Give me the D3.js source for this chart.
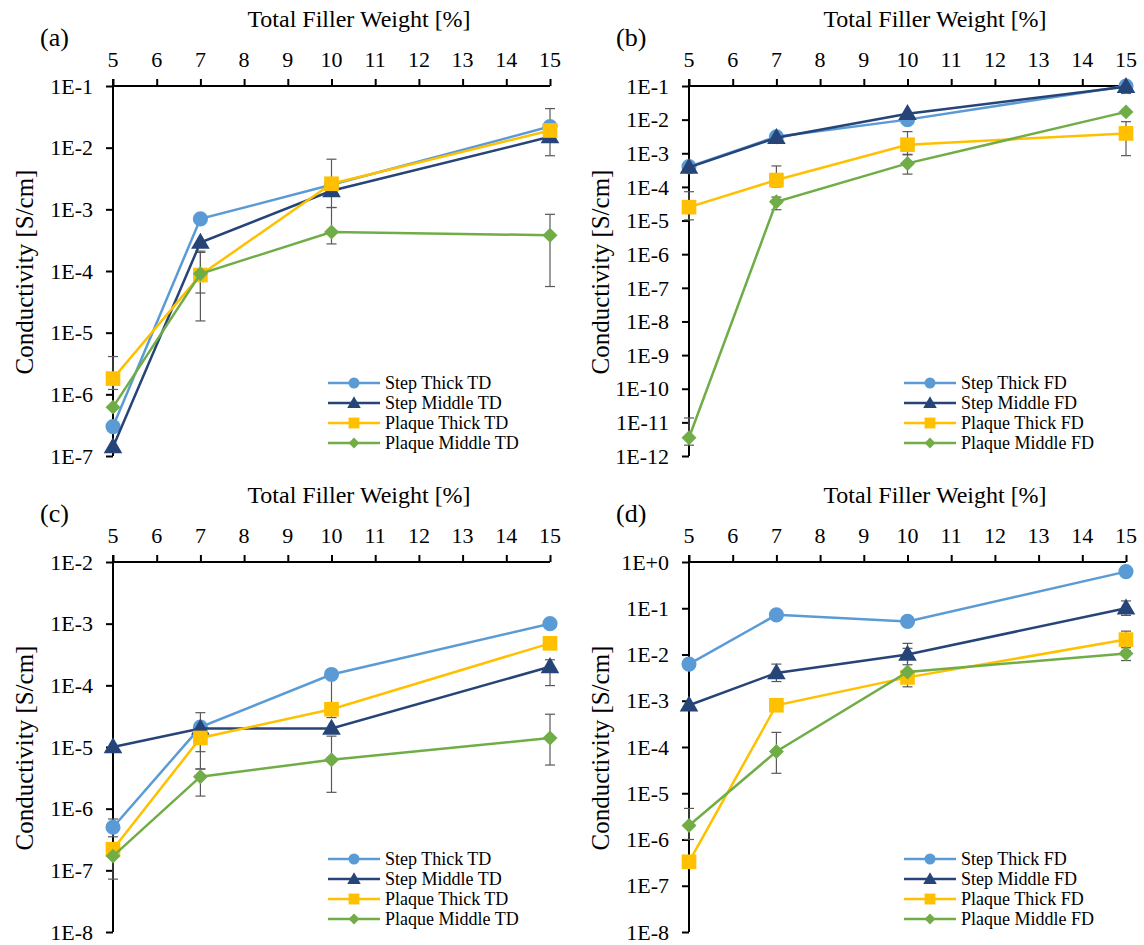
<!DOCTYPE html>
<html>
<head>
<meta charset="utf-8">
<script src="https://cdn.jsdelivr.net/npm/d3@7"></script>
</head>
<body style="margin:0">
<script>
// filler weights where the samples were measured, and the tick labels on the top axis
var weights = [5, 7, 10, 15];
var xTickValues = [5, 6, 7, 8, 9, 10, 11, 12, 13, 14, 15];

var tdNames = ["Step Thick TD", "Step Middle TD", "Plaque Thick TD", "Plaque Middle TD"];
var fdNames = ["Step Thick FD", "Step Middle FD", "Plaque Thick FD", "Plaque Middle FD"];

// (a) thick direction, first set
var a_stepThick    = [3.0e-7, 7.0e-4, 2.5e-3, 2.2e-2];
var a_stepMiddle   = [1.4e-7, 2.9e-4, 2.0e-3, 1.5e-2];
var a_plaqueThick  = [1.8e-6, 8.6e-5, 2.6e-3, 1.9e-2];
var a_plaqueMiddle = [6.2e-7, 9.0e-5, 4.3e-4, 3.8e-4];
var a_stepThickErr    = [null, null, null, [7.4e-3, 4.3e-2]];
var a_stepMiddleErr   = [null, null, null, null];
var a_plaqueThickErr  = [[1.2e-6, 4.1e-6], [4.4e-5, 2.0e-4], [1.07e-3, 6.5e-3], null];
var a_plaqueMiddleErr = [null, [1.55e-5, 2.1e-4], [2.75e-4, 1.07e-3], [5.6e-5, 8.3e-4]];

// (b) flow direction, first set
var b_stepThick    = [4.0e-4, 3.1e-3, 1.0e-2, 1.0e-1];
var b_stepMiddle   = [3.8e-4, 2.9e-3, 1.5e-2, 9.5e-2];
var b_plaqueThick  = [2.5e-5, 1.6e-4, 1.8e-3, 3.9e-3];
var b_plaqueMiddle = [3.5e-12, 3.6e-5, 5.0e-4, 1.7e-2];
var b_stepThickErr    = [null, null, null, null];
var b_stepMiddleErr   = [null, null, null, [6.0e-2, 1.3e-1]];
var b_plaqueThickErr  = [[1.05e-5, 7.2e-5], [1.0e-4, 4.2e-4], [9.3e-4, 4.4e-3], [8.5e-4, 8.7e-3]];
var b_plaqueMiddleErr = [[2.1e-12, 1.35e-11], [2.1e-5, 5.0e-5], [2.4e-4, 9.0e-4], null];

// (c) thick direction, second set
var c_stepThick    = [5.0e-7, 2.1e-5, 1.5e-4, 1.0e-3];
var c_stepMiddle   = [1.0e-5, 2.0e-5, 2.0e-5, 2.0e-4];
var c_plaqueThick  = [2.2e-7, 1.4e-5, 4.1e-5, 4.8e-4];
var c_plaqueMiddle = [1.7e-7, 3.3e-6, 6.2e-6, 1.4e-5];
var c_stepThickErr    = [[3.5e-7, 6.8e-7], [8.4e-6, 3.6e-5], [3.0e-5, 1.7e-4], null];
var c_stepMiddleErr   = [null, null, null, [9.9e-5, 2.6e-4]];
var c_plaqueThickErr  = [null, [4.4e-6, 2.0e-5], null, null];
var c_plaqueMiddleErr = [[7.2e-8, 2.5e-7], [1.6e-6, 4.4e-6], [1.84e-6, 1.5e-5], [5.1e-6, 3.4e-5]];

// (d) flow direction, second set
var d_stepThick    = [6.2e-3, 7.2e-2, 5.2e-2, 6.2e-1];
var d_stepMiddle   = [8.0e-4, 4.0e-3, 1.0e-2, 1.0e-1];
var d_plaqueThick  = [3.3e-7, 8.0e-4, 3.2e-3, 2.1e-2];
var d_plaqueMiddle = [2.0e-6, 8.0e-5, 4.2e-3, 1.05e-2];
var d_stepThickErr    = [null, null, null, null];
var d_stepMiddleErr   = [null, [2.6e-3, 6.2e-3], [6.0e-3, 1.74e-2], [7.0e-2, 1.44e-1]];
var d_plaqueThickErr  = [null, null, null, [1.2e-2, 3.2e-2]];
var d_plaqueMiddleErr = [[1.0e-6, 4.7e-6], [2.7e-5, 2.07e-4], [2.0e-3, 1.36e-2], [7.4e-3, 1.4e-2]];

// excel style colours for the four series
var seriesColors = ["#5b9bd5", "#264478", "#ffc000", "#70ad47"];
var seriesShapes = ["circle", "triangle", "square", "diamond"];

var width = 1144, height = 945;

var svg = d3.select("body").append("svg")
    .attr("width", width)
    .attr("height", height);

// panel setup: position, decade range and the series shown
var panels = [
  {label: "(a)", x0: 113, top: 86, yMax: -1, yMin: -7, names: tdNames,
   values: [a_stepThick, a_stepMiddle, a_plaqueThick, a_plaqueMiddle],
   errs: [a_stepThickErr, a_stepMiddleErr, a_plaqueThickErr, a_plaqueMiddleErr]},
  {label: "(b)", x0: 689, top: 86, yMax: -1, yMin: -12, names: fdNames,
   values: [b_stepThick, b_stepMiddle, b_plaqueThick, b_plaqueMiddle],
   errs: [b_stepThickErr, b_stepMiddleErr, b_plaqueThickErr, b_plaqueMiddleErr]},
  {label: "(c)", x0: 113, top: 562, yMax: -2, yMin: -8, names: tdNames,
   values: [c_stepThick, c_stepMiddle, c_plaqueThick, c_plaqueMiddle],
   errs: [c_stepThickErr, c_stepMiddleErr, c_plaqueThickErr, c_plaqueMiddleErr]},
  {label: "(d)", x0: 689, top: 562, yMax: 0, yMin: -8, names: fdNames,
   values: [d_stepThick, d_stepMiddle, d_plaqueThick, d_plaqueMiddle],
   errs: [d_stepThickErr, d_stepMiddleErr, d_plaqueThickErr, d_plaqueMiddleErr]}
];

var plotW = 437, plotH = 370;

function marker(shape, size) {
  if (shape == "circle") return d3.symbol().type(d3.symbolCircle).size(size)();
  if (shape == "triangle") return d3.symbol().type(d3.symbolTriangle).size(size)();
  return d3.symbol().type(d3.symbolSquare).size(size)();
}
function markerTransform(shape, x, y) {
  var t = "translate(" + x + "," + y + ")";
  if (shape == "triangle") t += " translate(0,1)";
  if (shape == "diamond") t += " rotate(45)";
  return t;
}
var dataSize = {circle: 180, triangle: 150, square: 215, diamond: 112};
var legendSize = {circle: 95, triangle: 80, square: 118, diamond: 58};

function expLabel(e) {
  return "1E" + (e >= 0 ? "+" : "") + e;
}

// all texts go straight onto the svg root with the serif face
function addText(x, y, size, str) {
  return svg.append("text").attr("x", x).attr("y", y)
    .style("font-family", "'Liberation Serif', 'Liberation Mono'")
    .style("font-size", size + "px")
    .text(str);
}

panels.forEach(function(p) {
  var g = svg.append("g");

  var x = d3.scaleLinear().domain([5, 15]).range([p.x0, p.x0 + plotW]);
  var y = d3.scaleLog()
      .domain([Math.pow(10, p.yMax), Math.pow(10, p.yMin)])
      .range([p.top, p.top + plotH]);
  var yTicks = d3.range(p.yMax, p.yMin - 1, -1);
  var yTickValues = yTicks.map(function(e){ return Math.pow(10, e); });

  // top x axis (lines from d3, labels placed from the same scale)
  var xg = g.append("g").attr("transform", "translate(0," + p.top + ")")
      .call(d3.axisTop(x).tickValues(xTickValues).tickSize(7).tickFormat(""));
  xg.select(".domain").attr("d", "M" + p.x0 + ",0H" + (p.x0 + plotW))
      .attr("stroke", "#000").attr("stroke-width", 2);
  xg.selectAll(".tick line").attr("stroke", "#000").attr("stroke-width", 2);
  xTickValues.forEach(function(v) {
    addText(x(v), p.top - 19, 22, String(v)).attr("text-anchor", "middle");
  });

  // left y axis
  var yg = g.append("g").attr("transform", "translate(" + p.x0 + ",0)")
      .call(d3.axisLeft(y).tickValues(yTickValues).tickSize(7).tickFormat(""));
  yg.select(".domain").attr("d", "M0," + (p.top - 7) + "V" + (p.top + plotH))
      .attr("stroke", "#000").attr("stroke-width", 2);
  yg.selectAll(".tick line").attr("stroke", "#000").attr("stroke-width", 2);
  yTickValues.forEach(function(v, i) {
    addText(p.x0 - 20, y(v), 22, expLabel(yTicks[i]))
      .attr("text-anchor", "end").attr("dy", "0.35em");
  });

  // titles
  addText(p.x0 + 246, p.top - 59, 24, "Total Filler Weight [%]").attr("text-anchor", "middle");
  addText(p.x0 - 73, p.top - 40, 26, p.label);
  addText(0, 0, 25, "Conductivity [S/cm]")
    .attr("transform", "translate(" + (p.x0 - 80) + "," + (p.top + 186) + ") rotate(-90)")
    .attr("text-anchor", "middle");

  // error bars first so the markers sit on top
  p.errs.forEach(function(errs) {
    weights.forEach(function(w, i) {
      var e = errs[i];
      if (!e) return;
      var xe = x(w);
      g.append("line").attr("x1", xe).attr("x2", xe)
        .attr("y1", y(e[0])).attr("y2", y(e[1]))
        .attr("stroke", "#595959").attr("stroke-width", 1.2);
      [e[0], e[1]].forEach(function(v) {
        g.append("line").attr("x1", xe - 5).attr("x2", xe + 5)
          .attr("y1", y(v)).attr("y2", y(v))
          .attr("stroke", "#595959").attr("stroke-width", 1.2);
      });
    });
  });

  var line = d3.line()
      .x(function(d) { return x(d[0]); })
      .y(function(d) { return y(d[1]); });

  p.values.forEach(function(vals, s) {
    var pts = weights.map(function(w, i) { return [w, vals[i]]; });
    g.append("path").datum(pts)
      .attr("d", line)
      .attr("fill", "none")
      .attr("stroke", seriesColors[s])
      .attr("stroke-width", 2.5);
    g.selectAll(".m" + s).data(pts).enter().append("path")
      .attr("d", marker(seriesShapes[s], dataSize[seriesShapes[s]]))
      .attr("transform", function(d) { return markerTransform(seriesShapes[s], x(d[0]), y(d[1])); })
      .attr("fill", seriesColors[s]);
  });

  // legend
  p.names.forEach(function(name, s) {
    var ly = p.top + 297 + s * 20;
    g.append("line").attr("x1", p.x0 + 215).attr("x2", p.x0 + 267).attr("y1", ly).attr("y2", ly)
      .attr("stroke", seriesColors[s]).attr("stroke-width", 2.5);
    g.append("path")
      .attr("d", marker(seriesShapes[s], legendSize[seriesShapes[s]]))
      .attr("transform", markerTransform(seriesShapes[s], p.x0 + 241, ly))
      .attr("fill", seriesColors[s]);
    addText(p.x0 + 272, ly, 18, name).attr("dy", "0.35em");
  });
});
</script>
</body>
</html>
